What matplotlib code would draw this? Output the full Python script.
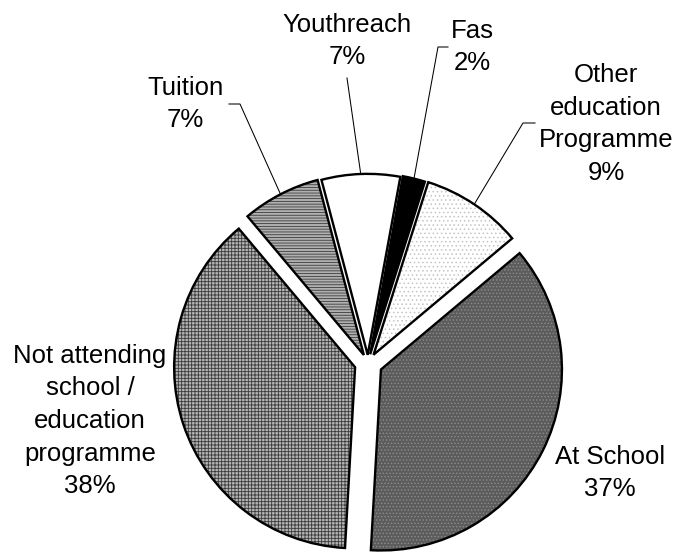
import matplotlib
matplotlib.use('Agg')
import numpy as np
import matplotlib.pyplot as plt
from matplotlib.patches import Wedge

# Share of young people by current education setting
labels = ['At School',
          'Not attending\nschool /\neducation\nprogramme',
          'Tuition',
          'Youthreach',
          'Fas',
          'Other\neducation\nProgramme']
percent = [37, 38, 7, 7, 2, 9]

# styling per slice
explode = [0.08, 0.075, 0.05, 0.045, 0.05, 0.055]
faces = ['#5c5c5c', '#b4b4b4', '#b0b0b0', 'white', 'black', 'white']
hatches = ['.....', '+++++', '------', None, None, '....']
hatch_cols = ['#8c8c8c', '#3a3a3a', '#3c3c3c', None, None, '#c4c4c4']

plt.rcParams['font.family'] = ['Liberation Sans', 'DejaVu Sans']
plt.rcParams['hatch.linewidth'] = 0.6

W, H = 674, 555
fig = plt.figure(figsize=(W / 100, H / 100), dpi=100)
ax = fig.add_axes([0, 0, 1, 1])
cx, cy, R = 368, H - 363, 181

# pie() takes explode in data units, so scale it by the radius
wedges, _ = ax.pie(percent, explode=[e * R for e in explode], startangle=40,
                   counterclock=False, radius=R, center=(cx, cy), colors=faces,
                   wedgeprops=dict(linewidth=0))

for w, h, hc in zip(wedges, hatches, hatch_cols):
    if h:
        ax.add_patch(Wedge(w.center, w.r, w.theta1, w.theta2, facecolor='none',
                           edgecolor=hc, hatch=h, linewidth=0, zorder=2))
    ax.add_patch(Wedge(w.center, w.r, w.theta1, w.theta2, facecolor='none',
                       edgecolor='black', linewidth=1.7, joinstyle='miter', zorder=3))

# label block centres and leader line start points (pixels from top-left)
text_xy = [(610, 473), (90, 421), (185, 104), (347, 41), (472, 47), (606, 124)]
leaders = [None, None,
           [(229, 104), (240, 104)],
           [(347, 78)],
           [(448, 47), (438, 47)],
           [(535, 123), (523, 123)]]

for w, lab, p, (tx, ty), ld in zip(wedges, labels, percent, text_xy, leaders):
    ax.text(tx, H - ty, f'{lab}\n{p}%', ha='center', va='center',
            multialignment='center', fontsize=18.5, linespacing=1.45)
    if ld:
        mid = np.deg2rad((w.theta1 + w.theta2) / 2)
        ex = w.center[0] + w.r * np.cos(mid)
        ey = w.center[1] + w.r * np.sin(mid)
        xs = [x for x, _ in ld] + [ex]
        ys = [H - y for _, y in ld] + [ey]
        ax.plot(xs, ys, color='black', linewidth=0.75, zorder=1)

ax.set_xlim(0, W)
ax.set_ylim(0, H)
ax.set_aspect('equal')
ax.axis('off')

fig.savefig('out.png', dpi=100, facecolor='white')
